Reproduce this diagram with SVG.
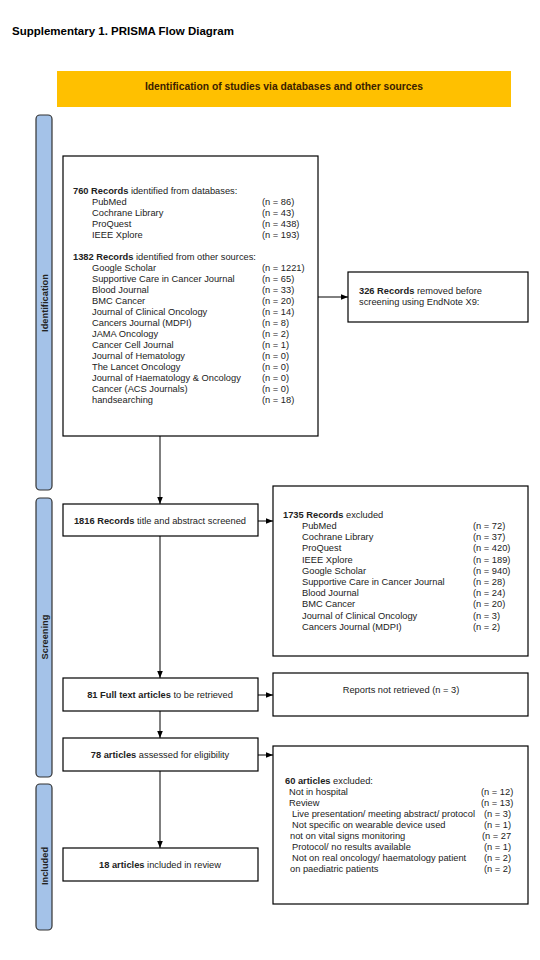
<svg xmlns="http://www.w3.org/2000/svg" width="540" height="960" viewBox="0 0 540 960">
<defs>
<style>
text{font-family:"Liberation Sans",Arial,sans-serif;font-size:9.3px;fill:#222;}
.b{font-weight:bold;}
.title{font-size:11.5px;font-weight:bold;fill:#000;}
.banner{font-size:10.3px;font-weight:bold;fill:#3a1d00;}
.side{font-size:9.3px;font-weight:bold;fill:#222;}
.box{fill:#fff;stroke:#000;stroke-width:1.2;}
.bar{fill:#a4c2e8;stroke:#333;stroke-width:1.2;}
.con{stroke:#000;stroke-width:1;fill:none;}
</style>
<marker id="ah" viewBox="0 0 10 10" refX="10" refY="5" markerWidth="7" markerHeight="7" orient="auto" markerUnits="userSpaceOnUse">
<path d="M0,1 L10,5 L0,9 Z" fill="#000"/>
</marker>
</defs>
<rect width="540" height="960" fill="#fff"/>
<text class="title" x="12" y="35">Supplementary 1. PRISMA Flow Diagram</text>

<g id="banner">
<rect x="57" y="71" width="454" height="36" fill="#ffc000"/>
<text class="banner" x="284" y="90" text-anchor="middle">Identification of studies via databases and other sources</text>
</g>

<g id="side-identification">
<rect class="bar" x="36" y="115" width="16" height="375" rx="4"/>
<text class="side" transform="translate(47.5,303) rotate(-90)" text-anchor="middle">Identification</text>
</g>
<g id="side-screening">
<rect class="bar" x="36" y="498" width="16" height="279" rx="4"/>
<text class="side" transform="translate(47.5,637) rotate(-90)" text-anchor="middle">Screening</text>
</g>
<g id="side-included">
<rect class="bar" x="36" y="784" width="16" height="146" rx="4"/>
<text class="side" transform="translate(47.5,866) rotate(-90)" text-anchor="middle">Included</text>
</g>

<g id="connectors">
<line class="con" x1="160" y1="436" x2="160" y2="504" marker-end="url(#ah)"/>
<line class="con" x1="318" y1="297" x2="348" y2="297" marker-end="url(#ah)"/>
<line class="con" x1="258" y1="521" x2="273" y2="521" marker-end="url(#ah)"/>
<line class="con" x1="160" y1="536" x2="160" y2="678" marker-end="url(#ah)"/>
<line class="con" x1="258" y1="695" x2="273" y2="695" marker-end="url(#ah)"/>
<line class="con" x1="160" y1="711" x2="160" y2="738" marker-end="url(#ah)"/>
<line class="con" x1="258" y1="755" x2="273" y2="755" marker-end="url(#ah)"/>
<line class="con" x1="160" y1="771" x2="160" y2="848" marker-end="url(#ah)"/>
</g>

<g id="records-identified">
<rect class="box" x="63" y="156" width="255" height="280"/>
<text x="73" y="194"><tspan class="b">760 Records</tspan> identified from databases:</text>
<text x="92" y="205">PubMed</text><text x="262" y="205">(n = 86)</text>
<text x="92" y="216">Cochrane Library</text><text x="262" y="216">(n = 43)</text>
<text x="92" y="227">ProQuest</text><text x="262" y="227">(n = 438)</text>
<text x="92" y="238">IEEE Xplore</text><text x="262" y="238">(n = 193)</text>
<text x="73" y="260"><tspan class="b">1382 Records</tspan> identified from other sources:</text>
<text x="92" y="271">Google Scholar</text><text x="262" y="271">(n = 1221)</text>
<text x="92" y="282">Supportive Care in Cancer Journal</text><text x="262" y="282">(n = 65)</text>
<text x="92" y="293">Blood Journal</text><text x="262" y="293">(n = 33)</text>
<text x="92" y="304">BMC Cancer</text><text x="262" y="304">(n = 20)</text>
<text x="92" y="315">Journal of Clinical Oncology</text><text x="262" y="315">(n = 14)</text>
<text x="92" y="326">Cancers Journal (MDPI)</text><text x="262" y="326">(n = 8)</text>
<text x="92" y="337">JAMA Oncology</text><text x="262" y="337">(n = 2)</text>
<text x="92" y="348">Cancer Cell Journal</text><text x="262" y="348">(n = 1)</text>
<text x="92" y="359">Journal of Hematology</text><text x="262" y="359">(n = 0)</text>
<text x="92" y="370">The Lancet Oncology</text><text x="262" y="370">(n = 0)</text>
<text x="92" y="381">Journal of Haematology &amp; Oncology</text><text x="262" y="381">(n = 0)</text>
<text x="92" y="392">Cancer (ACS Journals)</text><text x="262" y="392">(n = 0)</text>
<text x="92" y="403">handsearching</text><text x="262" y="403">(n = 18)</text>
</g>

<g id="records-removed">
<rect class="box" x="348" y="272" width="180" height="50"/>
<text x="359" y="294"><tspan class="b">326 Records</tspan> removed before</text>
<text x="359" y="305">screening using EndNote X9:</text>
</g>

<g id="records-screened">
<rect class="box" x="63" y="504" width="195" height="32"/>
<text x="160" y="524" text-anchor="middle"><tspan class="b">1816 Records</tspan> title and abstract screened</text>
</g>

<g id="records-excluded">
<rect class="box" x="273" y="486" width="255" height="170"/>
<text x="283" y="518"><tspan class="b">1735 Records</tspan> excluded</text>
<text x="302" y="529">PubMed</text><text x="473" y="529">(n = 72)</text>
<text x="302" y="540.2">Cochrane Library</text><text x="473" y="540.2">(n = 37)</text>
<text x="302" y="551.4">ProQuest</text><text x="473" y="551.4">(n = 420)</text>
<text x="302" y="562.6">IEEE Xplore</text><text x="473" y="562.6">(n = 189)</text>
<text x="302" y="573.8">Google Scholar</text><text x="473" y="573.8">(n = 940)</text>
<text x="302" y="585">Supportive Care in Cancer Journal</text><text x="473" y="585">(n = 28)</text>
<text x="302" y="596.2">Blood Journal</text><text x="473" y="596.2">(n = 24)</text>
<text x="302" y="607.4">BMC Cancer</text><text x="473" y="607.4">(n = 20)</text>
<text x="302" y="618.6">Journal of Clinical Oncology</text><text x="473" y="618.6">(n = 3)</text>
<text x="302" y="629.8">Cancers Journal (MDPI)</text><text x="473" y="629.8">(n = 2)</text>
</g>

<g id="full-text">
<rect class="box" x="63" y="678" width="195" height="33"/>
<text x="160" y="698" text-anchor="middle"><tspan class="b">81 Full text articles</tspan> to be retrieved</text>
</g>

<g id="not-retrieved">
<rect class="box" x="273" y="673" width="255" height="43"/>
<text x="401" y="693" text-anchor="middle">Reports not retrieved (n = 3)</text>
</g>

<g id="assessed">
<rect class="box" x="63" y="738" width="195" height="33"/>
<text x="160" y="758" text-anchor="middle"><tspan class="b">78 articles</tspan> assessed for eligibility</text>
</g>

<g id="articles-excluded">
<rect class="box" x="273" y="746" width="255" height="158"/>
<text x="285" y="784"><tspan class="b">60 articles</tspan> excluded:</text>
<text x="289" y="795">Not in hospital</text><text x="481" y="795">(n = 12)</text>
<text x="289" y="806">Review</text><text x="481" y="806">(n = 13)</text>
<text x="292" y="817">Live presentation/ meeting abstract/ protocol</text><text x="484" y="817">(n = 3)</text>
<text x="292" y="828">Not specific on wearable device used</text><text x="484" y="828">(n = 1)</text>
<text x="290" y="839">not on vital signs monitoring</text><text x="482" y="839">(n = 27</text>
<text x="292" y="850">Protocol/ no results available</text><text x="484" y="850">(n = 1)</text>
<text x="292" y="861">Not on real oncology/ haematology patient</text><text x="484" y="861">(n = 2)</text>
<text x="290" y="872">on paediatric patients</text><text x="484" y="872">(n = 2)</text>
</g>

<g id="included">
<rect class="box" x="63" y="848" width="195" height="33"/>
<text x="160" y="868" text-anchor="middle"><tspan class="b">18 articles</tspan> included in review</text>
</g>
</svg>
